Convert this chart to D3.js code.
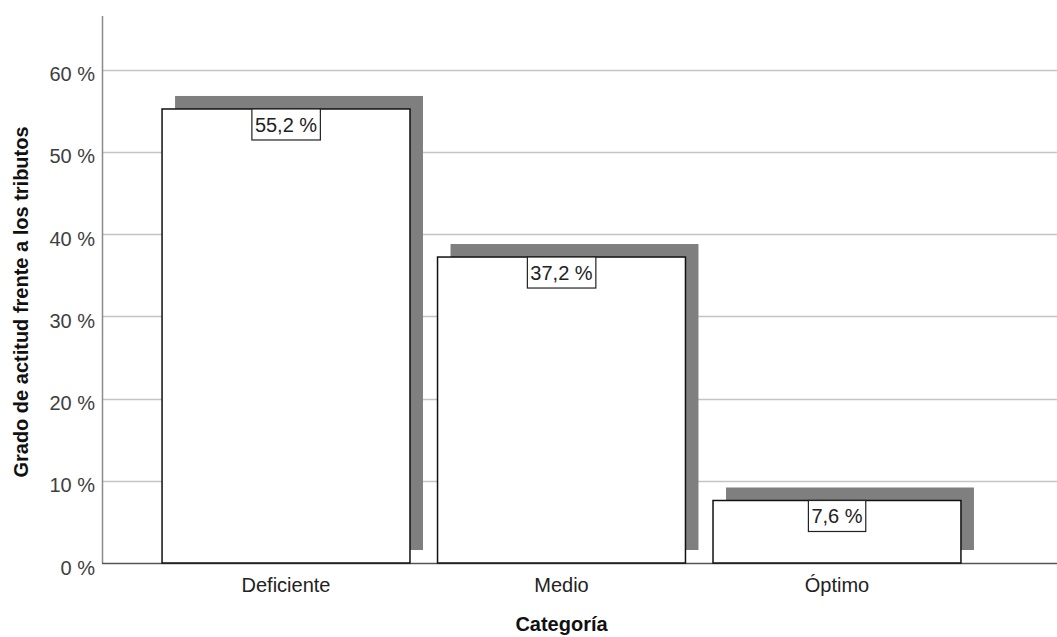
<!DOCTYPE html>
<html>
<head>
<meta charset="utf-8">
<script src="https://cdn.jsdelivr.net/npm/d3@7"></script>
<style>
  html, body { margin: 0; padding: 0; background: #fff; }
  svg { display: block; font-family: "Liberation Sans", Arial, sans-serif; }
</style>
</head>
<body>
<div id="chart"></div>
<script>
// Categories and percentage values
const categories = ["Deficiente", "Medio", "Óptimo"];
const values = [55.2, 37.2, 7.6];
const valueLabels = ["55,2 %", "37,2 %", "7,6 %"];
const yTicks = [0, 10, 20, 30, 40, 50, 60];
const yTitle = "Grado de actitud frente a los tributos";
const xTitle = "Categoría";

const W = 1057, H = 637;
const plotLeft = 102, plotBottom = 563, plotTop = 16, plotRight = 1021;
const FS = 20;

const svg = d3.select("#chart").append("svg")
  .attr("width", W).attr("height", H);

const y = d3.scaleLinear().domain([0, 60]).range([plotBottom, 69.5]);
const x = d3.scaleBand().domain(categories).range([plotLeft, plotRight])
  .paddingInner(0.1).paddingOuter(0.218);

// Gridlines
svg.append("g").selectAll("line").data(yTicks.filter(d => d > 0)).join("line")
  .attr("x1", plotLeft).attr("x2", W)
  .attr("y1", d => Math.round(y(d)) + 0.5).attr("y2", d => Math.round(y(d)) + 0.5)
  .attr("stroke", "#c4c4c4").attr("stroke-width", 1.3);

// Y axis
const yAxis = d3.axisLeft(y).tickValues(yTicks).tickSize(0).tickPadding(7)
  .tickFormat(d => d + " %");
const gy = svg.append("g").attr("transform", `translate(${plotLeft},0)`).call(yAxis);
gy.select(".domain").remove();
gy.selectAll("text").attr("font-size", FS).attr("fill", "#404040")
  .attr("font-family", "Liberation Sans, Arial, sans-serif")
  .attr("dy", "0.56em");
svg.append("line").attr("x1", plotLeft + 0.5).attr("x2", plotLeft + 0.5)
  .attr("y1", plotTop).attr("y2", plotBottom)
  .attr("stroke", "#8a8a8a").attr("stroke-width", 1.5);

// Shadows behind the bars
const sdx = 13, sdy = 13;
svg.append("g").selectAll("rect").data(values).join("rect")
  .attr("x", (d, i) => x(categories[i]) + sdx)
  .attr("y", d => y(d) - sdy)
  .attr("width", x.bandwidth())
  .attr("height", d => plotBottom - y(d))
  .attr("fill", "#7f7f7f");

// X axis baseline
svg.append("line").attr("x1", plotLeft).attr("x2", W)
  .attr("y1", plotBottom + 0.5).attr("y2", plotBottom + 0.5)
  .attr("stroke", "#555").attr("stroke-width", 1.5);

// Bars
svg.append("g").selectAll("rect").data(values).join("rect")
  .attr("x", (d, i) => x(categories[i]))
  .attr("y", d => y(d))
  .attr("width", x.bandwidth())
  .attr("height", d => plotBottom - y(d))
  .attr("fill", "#fff").attr("stroke", "#111").attr("stroke-width", 1.5);

// Value labels in boxes
const lab = svg.append("g").selectAll("g").data(values).join("g");
lab.append("text")
  .attr("x", (d, i) => x(categories[i]) + x.bandwidth() / 2)
  .attr("y", d => y(d) + 23)
  .attr("text-anchor", "middle").attr("font-size", FS).attr("fill", "#222")
  .text((d, i) => valueLabels[i]);
lab.each(function() {
  const g = d3.select(this);
  const bb = g.select("text").node().getBBox();
  g.insert("rect", "text")
    .attr("x", bb.x - 3).attr("y", y(g.datum()))
    .attr("width", bb.width + 6).attr("height", 31)
    .attr("fill", "#fff").attr("stroke", "#222").attr("stroke-width", 1.2);
});

// X axis category labels
const xAxis = d3.axisBottom(x).tickSize(0).tickPadding(0);
const gx = svg.append("g").attr("transform", `translate(0,${plotBottom})`).call(xAxis);
gx.select(".domain").remove();
gx.selectAll("text").attr("font-size", FS).attr("fill", "#222")
  .attr("font-family", "Liberation Sans, Arial, sans-serif")
  .attr("dy", null).attr("y", 29);

// Axis titles
svg.append("text").attr("x", (plotLeft + plotRight) / 2).attr("y", 631)
  .attr("text-anchor", "middle").attr("font-size", FS).attr("font-weight", "bold")
  .attr("fill", "#111").text(xTitle);
svg.append("text")
  .attr("transform", `translate(28,302) rotate(-90)`)
  .attr("text-anchor", "middle").attr("font-size", FS).attr("font-weight", "bold")
  .attr("fill", "#111").text(yTitle);
</script>
</body>
</html>
